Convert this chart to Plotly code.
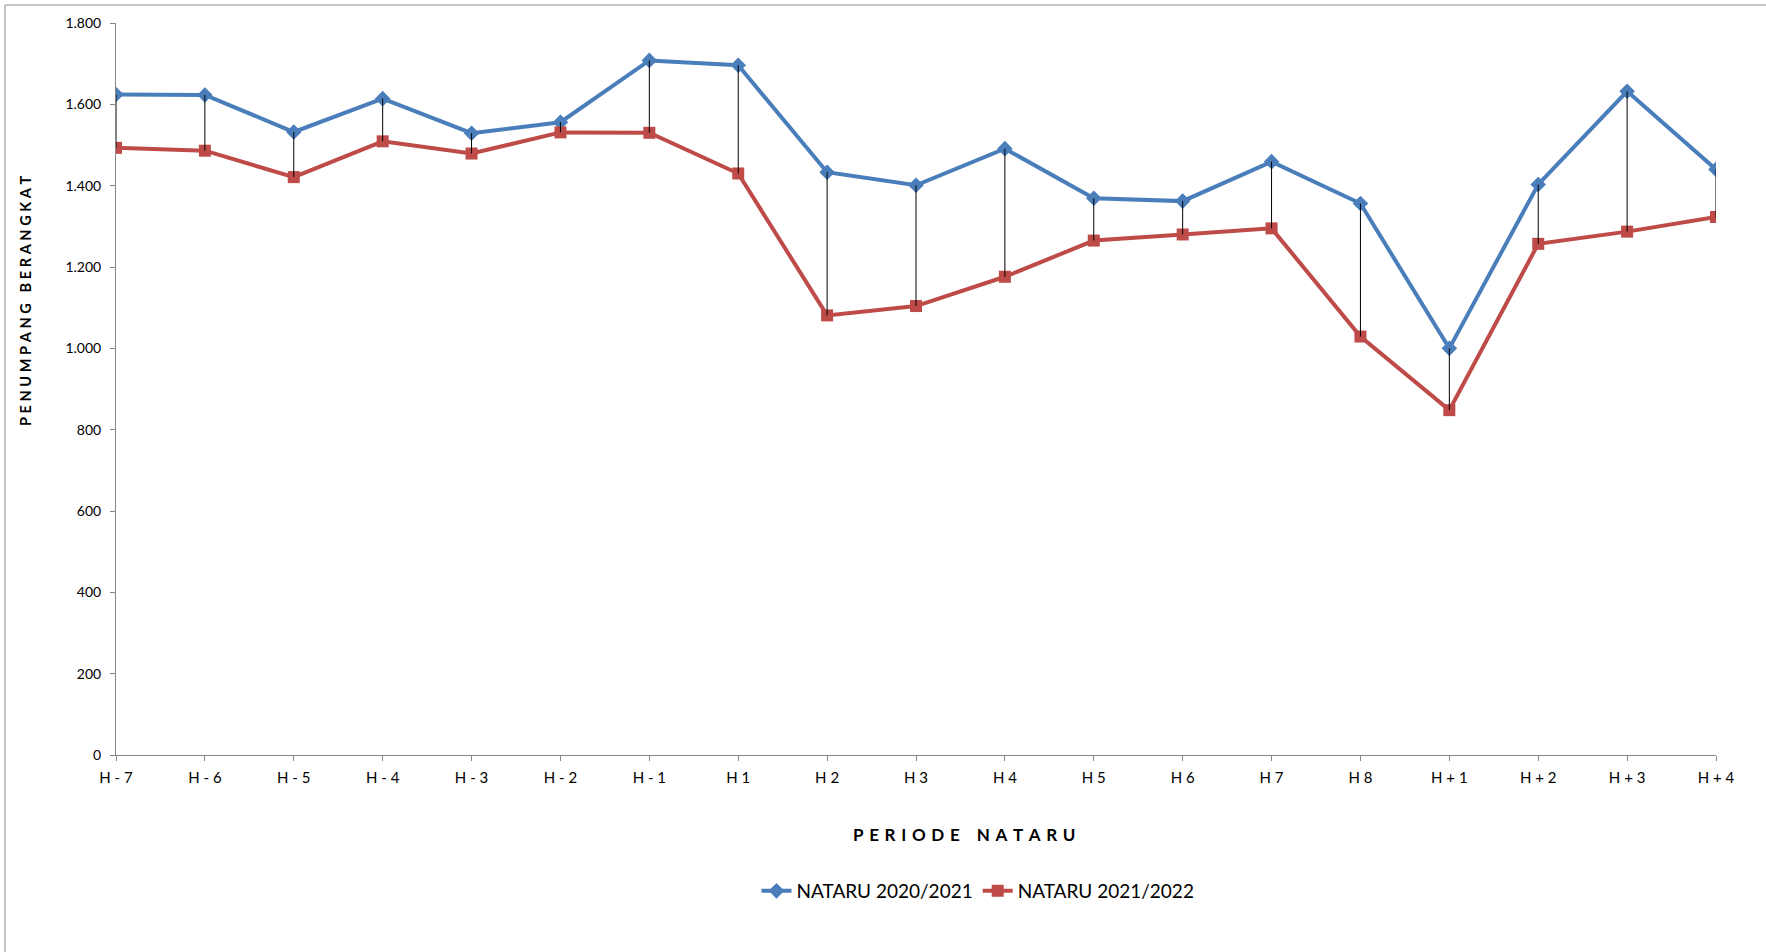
import plotly.graph_objects as go

categories = ["H - 7", "H - 6", "H - 5", "H - 4", "H - 3", "H - 2", "H - 1",
              "H 1", "H 2", "H 3", "H 4", "H 5", "H 6", "H 7", "H 8",
              "H + 1", "H + 2", "H + 3", "H + 4"]
nataru_2020_2021 = [1624, 1623, 1532, 1614, 1529, 1556, 1708, 1696, 1433, 1401,
                    1491, 1369, 1362, 1459, 1356, 1000, 1403, 1632, 1440]
nataru_2021_2022 = [1493, 1486, 1421, 1509, 1479, 1531, 1530, 1430, 1081, 1104,
                    1176, 1265, 1280, 1295, 1029, 848, 1257, 1287, 1323]
y_tick_values = [0, 200, 400, 600, 800, 1000, 1200, 1400, 1600, 1800]
y_tick_labels = ["0", "200", "400", "600", "800", "1.000", "1.200", "1.400", "1.600", "1.800"]
x_title = "PERIODE NATARU"
y_title = "PENUMPANG BERANGKAT"

BLUE = "#4a7ebb"
RED = "#be4b48"
FONT = "Lato"

W, H = 1766, 952
L, R, T, B = 116, 50, 23, 197
pw, ph = W - L - R, H - T - B


def px_to_paper(x, y):
    return (x - L) / pw, (H - B - y) / ph


def spaced(text, sp):
    return (sp * 3).join(sp.join(word) for word in text.split(" "))


xs = list(range(len(categories)))

fig = go.Figure()
fig.add_trace(go.Scatter(
    x=xs, y=nataru_2020_2021, name="NATARU 2020/2021", mode="lines+markers",
    line=dict(color=BLUE, width=4),
    marker=dict(symbol="diamond", size=12, color=BLUE),
))
fig.add_trace(go.Scatter(
    x=xs, y=nataru_2021_2022, name="NATARU 2021/2022", mode="lines+markers",
    line=dict(color=RED, width=4),
    marker=dict(symbol="square", size=12, color=RED),
))

# high-low (drop) lines between the two series
hx, hy = [], []
for i, (a, b) in enumerate(zip(nataru_2020_2021, nataru_2021_2022)):
    hx += [i, i, None]
    hy += [a, b, None]
fig.add_trace(go.Scatter(x=hx, y=hy, mode="lines", line=dict(color="black", width=1),
                         showlegend=False, hoverinfo="skip"))

lx, ty = px_to_paper(5, 5)
rx, by = px_to_paper(W + 5, H + 5)
shapes = [
    dict(type="line", xref="paper", yref="paper", x0=lx, x1=lx, y0=ty, y1=by,
         line=dict(color="#8c8c8c", width=1)),
    dict(type="line", xref="paper", yref="paper", x0=lx, x1=rx, y0=ty, y1=ty,
         line=dict(color="#8c8c8c", width=1)),
]

ax_ytitle_x, ax_ytitle_y = px_to_paper(25, 301)
ax_xtitle_x, ax_xtitle_y = px_to_paper(964, 834)
leg_x, leg_y = px_to_paper(978, 891)

annotations = [
    dict(text="<b>" + spaced(y_title, "\u2005") + "</b>", textangle=-90,
         xref="paper", yref="paper", x=ax_ytitle_x, y=ax_ytitle_y,
         xanchor="center", yanchor="middle", showarrow=False,
         font=dict(family=FONT, size=14.5, color="black")),
    dict(text="<b>" + spaced(x_title, "\u2004") + "</b>",
         xref="paper", yref="paper", x=ax_xtitle_x, y=ax_xtitle_y,
         xanchor="center", yanchor="middle", showarrow=False,
         font=dict(family=FONT, size=17, color="black")),
]

fig.update_layout(
    width=W, height=H,
    margin=dict(l=L, r=R, t=T, b=B),
    plot_bgcolor="white", paper_bgcolor="white",
    font=dict(family=FONT, color="black"),
    separators=",.",
    shapes=shapes,
    annotations=annotations,
    legend=dict(orientation="h", x=leg_x, y=leg_y, xanchor="center", yanchor="middle",
                font=dict(family=FONT, size=19, color="black"),
                itemwidth=30, tracegroupgap=0),
    xaxis=dict(
        range=[0, len(categories) - 1], tickmode="array", tickvals=xs, ticktext=categories,
        showgrid=False, zeroline=False, showline=True, linecolor="#868686", linewidth=1,
        ticks="outside", ticklen=5, tickcolor="#868686",
        tickfont=dict(family=FONT, size=15, color="black"), ticklabelstandoff=4,
    ),
    yaxis=dict(
        range=[0, 1800], tickmode="array", tickvals=y_tick_values, ticktext=y_tick_labels,
        showgrid=False, zeroline=False, showline=True, linecolor="#868686", linewidth=1,
        ticks="outside", ticklen=5, tickcolor="#868686",
        tickfont=dict(family=FONT, size=14, color="black"), ticklabelstandoff=6,
    ),
)

fig.write_html("out.html", config={"displayModeBar": False},
               post_script="document.body.style.margin='0';document.body.style.overflow='hidden';")
